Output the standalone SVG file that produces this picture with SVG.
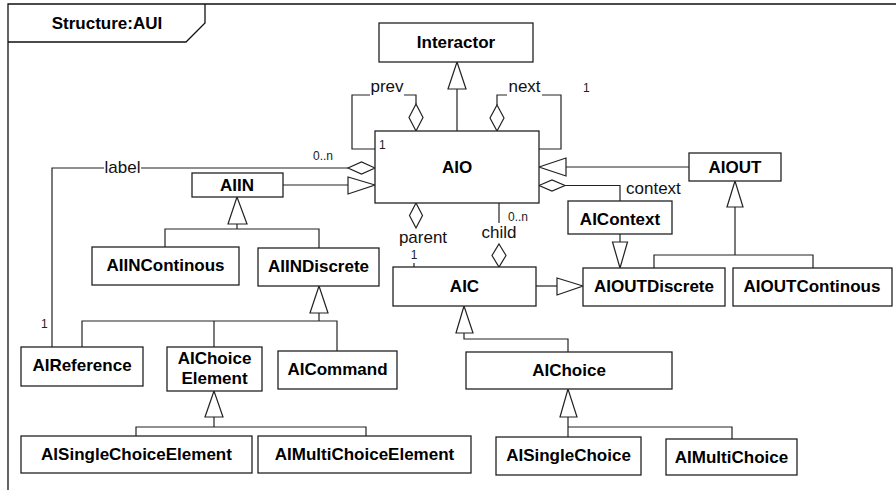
<svg xmlns="http://www.w3.org/2000/svg" width="896" height="490" viewBox="0 0 896 490">
<style>
.frame{fill:none;stroke:#111;stroke-width:1.3}
.box{fill:#fff;stroke:#222;stroke-width:1.3}
.ln{fill:none;stroke:#222;stroke-width:1.2}
.tri{fill:#fff;stroke:#222;stroke-width:1.2}
.dia{fill:#fff;stroke:#222;stroke-width:1.2}
.t{font-family:"Liberation Sans",Arial,sans-serif;font-size:17px;font-weight:bold;fill:#000;text-anchor:middle}
.lbl{font-family:"Liberation Sans",Arial,sans-serif;font-size:17px;fill:#111}
.m{font-family:"Liberation Sans",Arial,sans-serif;font-size:12px;fill:#222}
</style>
<rect width="896" height="490" fill="#fff"/>
<g id="frame">
<path class="frame" d="M8,490 V4 H896"/>
<path class="frame" d="M8,42 H186 L205,23 V4"/>
<text class="t" x="107" y="29">Structure:AUI</text>
</g>
<g id="connectors">
<!-- Interactor generalization -->
<path class="ln" d="M457,131 V89"/>
<polygon class="tri" points="457,62 448,89 466,89"/>
<!-- prev -->
<path class="ln" d="M375,149 H352 V95 H370"/>
<path class="ln" d="M404,95 H416 V104"/>
<polygon class="dia" points="416,104 423,117.5 416,131 409,117.5"/>
<text class="lbl" x="387" y="92" text-anchor="middle">prev</text>
<!-- next -->
<polygon class="dia" points="497,105 504,118 497,131 490,118"/>
<path class="ln" d="M497,105 V95 H507"/>
<path class="ln" d="M542,95 H561 V149 H539"/>
<text class="lbl" x="524.5" y="92" text-anchor="middle">next</text>
<text class="m" x="583" y="92">1</text>
<!-- label -->
<polygon class="dia" points="375,168 361.5,162 348,168 361.5,174"/>
<path class="ln" d="M348,168 H141"/>
<path class="ln" d="M104,168 H52 V347"/>
<text class="lbl" x="122.5" y="173" text-anchor="middle">label</text>
<text class="m" x="323" y="160" text-anchor="middle">0..n</text>
<text class="m" x="41" y="328">1</text>
<!-- AIIN -> AIO -->
<path class="ln" d="M283,185 H348"/>
<polygon class="tri" points="375,185 348,177 348,194"/>
<!-- AIIN children -->
<polygon class="tri" points="237,197 228,224 247,224"/>
<path class="ln" d="M237,224 V229 M165,247 V229 H319 V248"/>
<!-- AIOUT -> AIO -->
<path class="ln" d="M689,167 H566"/>
<polygon class="tri" points="539,167 566,158 566,176"/>
<!-- context -->
<polygon class="dia" points="539,185.5 552,180 565,185.5 552,191"/>
<path class="ln" d="M565,185.5 H620 V201"/>
<text class="lbl" x="626" y="194">context</text>
<!-- AIContext -> AIOUTDiscrete -->
<path class="ln" d="M620,234 V242"/>
<polygon class="tri" points="620,268 612.5,242 627.5,242"/>
<!-- AIOUT children -->
<polygon class="tri" points="735,181 727,207 743,207"/>
<path class="ln" d="M735,207 V255 M654,268 V255 H813 V268"/>
<!-- parent -->
<polygon class="dia" points="416,203 422.5,215.5 416,228 409.5,215.5"/>
<text class="lbl" x="423" y="243" text-anchor="middle">parent</text>
<text class="m" x="414" y="259" text-anchor="middle">1</text>
<path class="ln" d="M414,263 V267"/>
<!-- child -->
<path class="ln" d="M499,200 V223"/>
<text class="lbl" x="499" y="238" text-anchor="middle">child</text>
<text class="m" x="518" y="221" text-anchor="middle">0..n</text>
<polygon class="dia" points="499,244 506,255.5 499,267 492,255.5"/>
<!-- AIC -> AIOUTDiscrete -->
<path class="ln" d="M536,286 H557"/>
<polygon class="tri" points="583,286 557,278 557,295"/>
<!-- AIC children -->
<polygon class="tri" points="464,306 456,333 473,333"/>
<path class="ln" d="M464,333 V339 H568 V352"/>
<!-- AIChoice children -->
<polygon class="tri" points="568,389 560,417 577,417"/>
<path class="ln" d="M568,417 V437 M568,427 H732 V439"/>
<!-- AIINDiscrete children -->
<polygon class="tri" points="319,286 310,313 328,313"/>
<path class="ln" d="M319,313 V321 M82,347 V321 H337 V351 M214,321 V347"/>
<!-- AIChoiceElement children -->
<polygon class="tri" points="214,391 205,417 223,417"/>
<path class="ln" d="M214,417 V427 M136,436 V427 H366 V436"/>
</g>
<g id="Interactor"><rect class="box" x="379" y="23" width="154" height="39"/><text class="t" x="456" y="48">Interactor</text></g>
<g id="AIO"><rect class="box" x="375" y="131" width="164" height="72"/><text class="t" x="457" y="173">AIO</text><text class="m" x="379" y="149">1</text></g>
<g id="AIOUT"><rect class="box" x="689" y="153" width="92" height="28"/><text class="t" x="735" y="173">AIOUT</text></g>
<g id="AIContext"><rect class="box" x="568" y="201" width="104" height="33"/><text class="t" x="620" y="225">AIContext</text></g>
<g id="AIOUTDiscrete"><rect class="box" x="583" y="268" width="142" height="38"/><text class="t" x="654" y="292">AIOUTDiscrete</text></g>
<g id="AIOUTContinous"><rect class="box" x="733" y="268" width="159" height="38"/><text class="t" x="812" y="292">AIOUTContinous</text></g>
<g id="AIIN"><rect class="box" x="192" y="173" width="91" height="24"/><text class="t" x="237" y="191">AIIN</text></g>
<g id="AIINContinous"><rect class="box" x="92" y="247" width="147" height="38"/><text class="t" x="165.5" y="271">AIINContinous</text></g>
<g id="AIINDiscrete"><rect class="box" x="258" y="248" width="121" height="38"/><text class="t" x="318.5" y="272">AIINDiscrete</text></g>
<g id="AIC"><rect class="box" x="393" y="267" width="143" height="39"/><text class="t" x="464.5" y="292">AIC</text></g>
<g id="AIReference"><rect class="box" x="21" y="347" width="122" height="39"/><text class="t" x="82" y="371">AIReference</text></g>
<g id="AIChoiceElement"><rect class="box" x="167" y="347" width="95" height="44"/><text class="t" x="214.5" y="364">AIChoice</text><text class="t" x="214.5" y="384">Element</text></g>
<g id="AICommand"><rect class="box" x="278" y="351" width="119" height="38"/><text class="t" x="337.5" y="375">AICommand</text></g>
<g id="AISingleChoiceElement"><rect class="box" x="21" y="436" width="231" height="37"/><text class="t" x="136.5" y="460">AISingleChoiceElement</text></g>
<g id="AIMultiChoiceElement"><rect class="box" x="258" y="436" width="213" height="37"/><text class="t" x="364.5" y="460">AIMultiChoiceElement</text></g>
<g id="AIChoice"><rect class="box" x="466" y="352" width="206" height="37"/><text class="t" x="569" y="376">AIChoice</text></g>
<g id="AISingleChoice"><rect class="box" x="496" y="437" width="145" height="38"/><text class="t" x="568.5" y="461">AISingleChoice</text></g>
<g id="AIMultiChoice"><rect class="box" x="666" y="439" width="131" height="36"/><text class="t" x="731.5" y="463">AIMultiChoice</text></g>
</svg>
